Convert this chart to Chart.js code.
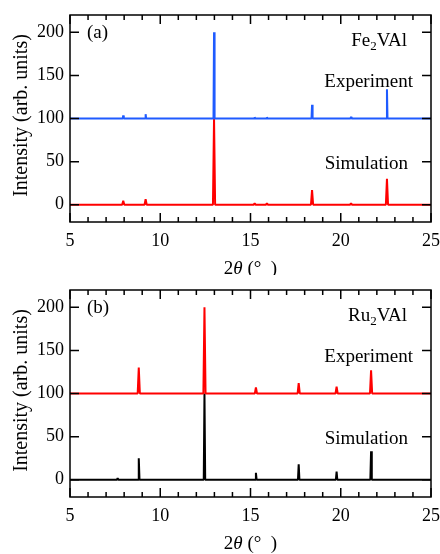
<!DOCTYPE html>
<html>
<head>
<meta charset="utf-8">
<script src="https://cdn.jsdelivr.net/npm/chart.js"></script>
<style>
body { margin: 0; background: #fff; }
.panel { position: absolute; left: 0; width: 440px; }
</style>
</head>
<body>
<div class="panel" style="top:0;height:275px"><canvas id="chartA"></canvas></div>
<div class="panel" style="top:275px;height:279px"><canvas id="chartB"></canvas></div>
<script>
// axis ranges and tick labels
const xMin = 5, xMax = 25;
const yMin = -20, yMax = 220;
const xTicks = [5, 10, 15, 20, 25];
const yTicks = [0, 50, 100, 150, 200];
const expOffset = 100;

// (a) Fe2VAl : peak positions (2theta) and heights
const fePeaks = [7.95, 9.19, 12.98, 15.23, 15.91, 18.41, 20.57, 22.56];
const feExp = [3.5, 5, 100, 1.5, 1.5, 16, 2, 34];
const feSim = [4.5, 6.5, 100, 1.5, 1.5, 17, 1.5, 30];

// (b) Ru2VAl
const ruPeaks = [7.64, 8.81, 12.45, 15.30, 17.67, 19.77, 21.68];
const ruExp = [0, 30, 100, 7, 12, 8, 27];
const ruSim = [2, 25, 100, 8, 18, 9.5, 33];

const serif = '"Liberation Serif", "DejaVu Serif", serif';

// stick pattern: flat baseline with a narrow triangle at each peak
function stick(peaks, heights, base, hw) {
    const pts = [{ x: xMin, y: base }];
    peaks.forEach((p, i) => {
        if (!heights[i]) return;
        pts.push({ x: p - hw, y: base });
        pts.push({ x: p, y: base + heights[i] });
        pts.push({ x: p + hw, y: base });
    });
    pts.push({ x: xMax, y: base });
    return pts;
}

// frame, inward ticks and the text labels
const framePlugin = {
    id: 'frame',
    afterDraw(chart, args, opts) {
        const { ctx, chartArea: a, scales: { x, y } } = chart;
        ctx.save();
        ctx.strokeStyle = '#000';
        ctx.lineWidth = 1.5;
        ctx.strokeRect(a.left, a.top, a.right - a.left, a.bottom - a.top);
        ctx.beginPath();
        for (let v = xMin; v <= xMax; v++) {
            const px = x.getPixelForValue(v);
            const len = v % 5 === 0 ? 9 : 5;
            ctx.moveTo(px, a.bottom); ctx.lineTo(px, a.bottom - len);
            ctx.moveTo(px, a.top); ctx.lineTo(px, a.top + len);
        }
        yTicks.forEach(v => {
            const py = y.getPixelForValue(v);
            ctx.moveTo(a.left, py); ctx.lineTo(a.left + 9, py);
            ctx.moveTo(a.right, py); ctx.lineTo(a.right - 9, py);
        });
        ctx.stroke();

        ctx.fillStyle = '#000';
        ctx.textBaseline = 'middle';
        ctx.font = '19px ' + serif;

        // panel letter
        ctx.textAlign = 'left';
        ctx.fillText(opts.letter, x.getPixelForValue(5.94), y.getPixelForValue(199));

        // compound name with subscript
        const [p1, sub, p2] = opts.formula;
        const w1 = ctx.measureText(p1).width;
        const w3 = ctx.measureText(p2).width;
        ctx.font = '13px ' + serif;
        const w2 = ctx.measureText(sub).width;
        const right = x.getPixelForValue(23.67);
        const fy = y.getPixelForValue(190);
        let cx = right - w1 - w2 - w3;
        ctx.font = '19px ' + serif;
        ctx.fillText(p1, cx, fy);
        cx += w1;
        ctx.font = '13px ' + serif;
        ctx.fillText(sub, cx, fy + 6);
        cx += w2;
        ctx.font = '19px ' + serif;
        ctx.fillText(p2, cx, fy);

        ctx.textAlign = 'right';
        ctx.fillText('Experiment', x.getPixelForValue(24.0), y.getPixelForValue(142));
        ctx.fillText('Simulation', x.getPixelForValue(23.73), y.getPixelForValue(47));

        // y axis title
        ctx.save();
        ctx.translate(22, (a.top + a.bottom) / 2 - 3);
        ctx.rotate(-Math.PI / 2);
        ctx.textAlign = 'center';
        ctx.font = '20px ' + serif;
        ctx.fillText('Intensity (arb. units)', 0, 0);
        ctx.restore();

        // x axis title: 2θ (°  )
        const parts = [['2', '19px '], ['\u03b8', 'italic 19px '], [' (\u00b0  )', '19px ']];
        let total = 0;
        parts.forEach(p => { ctx.font = p[1] + serif; total += ctx.measureText(p[0]).width; });
        let tx = (a.left + a.right) / 2 - total / 2;
        const ty = a.bottom + 47;
        ctx.textAlign = 'left';
        parts.forEach(p => {
            ctx.font = p[1] + serif;
            ctx.fillText(p[0], tx, ty);
            tx += ctx.measureText(p[0]).width;
        });
        ctx.restore();
    }
};

function makeChart(id, xHeight, letter, formula, expData, simData, expColor, simColor) {
    return new Chart(document.getElementById(id), {
        type: 'line',
        data: {
            datasets: [
                { data: expData, borderColor: expColor },
                { data: simData, borderColor: simColor }
            ]
        },
        options: {
            responsive: true,
            maintainAspectRatio: false,
            animation: false,
            events: [],
            layout: { padding: { top: 15, right: 9, left: 0, bottom: 0 } },
            elements: {
                point: { radius: 0 },
                line: { borderWidth: 2, tension: 0, borderJoinStyle: 'bevel', fill: false }
            },
            plugins: {
                legend: { display: false },
                tooltip: { enabled: false },
                frame: { letter: letter, formula: formula }
            },
            scales: {
                x: {
                    type: 'linear', min: xMin, max: xMax,
                    grid: { display: false, drawTicks: false },
                    border: { display: false },
                    afterBuildTicks: s => { s.ticks = xTicks.map(v => ({ value: v })); },
                    afterFit: s => { s.height = xHeight; s.paddingLeft = 0; s.paddingRight = 0; },
                    ticks: {
                        color: '#000', padding: 8, maxRotation: 0, autoSkip: false,
                        font: { family: serif, size: 18 }
                    }
                },
                y: {
                    type: 'linear', min: yMin, max: yMax,
                    grid: { display: false, drawTicks: false },
                    border: { display: false },
                    afterBuildTicks: s => { s.ticks = yTicks.map(v => ({ value: v })); },
                    afterFit: s => { s.width = 70; s.paddingTop = 0; s.paddingBottom = 0; },
                    ticks: {
                        color: '#000', padding: 6,
                        font: { family: serif, size: 18 }
                    }
                }
            }
        },
        plugins: [framePlugin]
    });
}

makeChart('chartA', 53, '(a)', ['Fe', '2', 'VAl'],
    stick(fePeaks, feExp, expOffset, 0.03), stick(fePeaks, feSim, 0, 0.06),
    '#1f5bff', '#ff0000');
makeChart('chartB', 57, '(b)', ['Ru', '2', 'VAl'],
    stick(ruPeaks, ruExp, expOffset, 0.06), stick(ruPeaks, ruSim, 0, 0.04),
    '#ff0000', '#000000');
</script>
</body>
</html>
